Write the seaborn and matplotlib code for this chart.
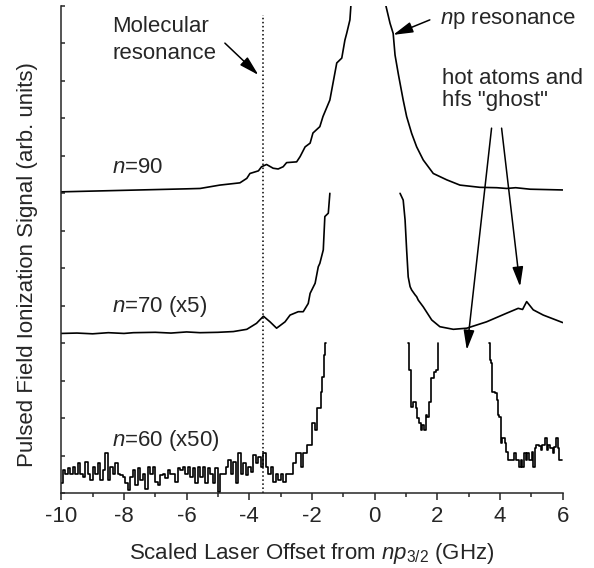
import matplotlib
matplotlib.use("Agg")
import matplotlib.pyplot as plt
import pandas as pd
import seaborn as sns

# Traces. y is in tick units (ticks every 1, axis 0..13).
# n=90: left and right wings of the np line (peak runs off the top)
n90_left_x = [-10.0, -9.0, -8.0, -7.0, -6.0, -5.57, -4.94, -4.30, -4.08, -3.98,
              -3.71, -3.61, -3.45, -3.24, -3.08, -2.92, -2.81, -2.49, -2.38, -2.22,
              -2.06, -1.97, -1.75, -1.65, -1.43, -1.33, -1.21, -1.05, -0.95, -0.89,
              -0.79, -0.76]
n90_left_y = [8.04, 8.06, 8.08, 8.10, 8.12, 8.13, 8.22, 8.28, 8.40, 8.53,
              8.60, 8.71, 8.77, 8.67, 8.65, 8.71, 8.82, 8.84, 8.98, 9.24,
              9.34, 9.61, 9.78, 10.05, 10.49, 10.94, 11.48, 11.61, 12.09, 12.28,
              12.63, 13.0]
n90_right_x = [0.36, 0.49, 0.59, 0.65, 0.76, 0.91, 1.02, 1.18, 1.34, 1.55,
               1.87, 2.30, 2.72, 3.36, 3.90, 4.21, 4.50, 4.96, 6.0]
n90_right_y = [13.0, 12.54, 12.27, 11.69, 11.16, 10.49, 10.05, 9.60, 9.24, 8.89,
               8.53, 8.36, 8.22, 8.16, 8.15, 8.13, 8.15, 8.11, 8.09]

# n=70 (x5)
n70_left_x = [-10.0, -9.5, -9.0, -8.5, -8.0, -7.7, -7.0, -6.5, -6.0, -5.57,
              -5.0, -4.51, -4.08, -3.77, -3.55, -3.34, -3.13, -2.86, -2.70, -2.44,
              -2.28, -2.12, -2.06, -1.90, -1.80, -1.75, -1.64, -1.59, -1.48, -1.43]
n70_left_y = [4.26, 4.27, 4.25, 4.28, 4.26, 4.28, 4.29, 4.27, 4.30, 4.28,
              4.29, 4.31, 4.37, 4.53, 4.72, 4.57, 4.40, 4.57, 4.75, 4.84,
              4.84, 5.06, 5.33, 5.60, 6.04, 6.13, 6.49, 7.38, 7.47, 8.0]
n70_right_x = [0.81, 0.91, 0.97, 1.02, 1.07, 1.13, 1.18, 1.29, 1.34, 1.39,
               1.55, 1.82, 2.08, 2.51, 2.94, 3.57, 4.21, 4.58, 4.72, 4.85,
               5.06, 5.38, 6.0]
n70_right_y = [8.0, 7.82, 7.29, 6.49, 5.77, 5.51, 5.42, 5.29, 5.24, 5.15,
               4.97, 4.62, 4.44, 4.37, 4.40, 4.57, 4.80, 4.93, 4.90, 5.11,
               4.89, 4.75, 4.55]

# n=60 (x50): noisy, three visible pieces
n60_a_x = [-10.00, -9.92, -9.84, -9.76, -9.68, -9.60, -9.52, -9.44, -9.36, -9.28,
           -9.20, -9.12, -9.04, -8.96, -8.88, -8.80, -8.72, -8.64, -8.56, -8.48,
           -8.40, -8.32, -8.24, -8.16, -8.08, -8.00, -7.92, -7.84, -7.76, -7.68,
           -7.60, -7.52, -7.44, -7.36, -7.28, -7.20, -7.12, -7.04, -6.96, -6.88,
           -6.80, -6.72, -6.64, -6.56, -6.48, -6.40, -6.32, -6.24, -6.16, -6.08,
           -6.00, -5.92, -5.84, -5.76, -5.68, -5.60, -5.52, -5.44, -5.36, -5.28,
           -5.20, -5.12, -5.04, -4.96, -4.88, -4.80, -4.72, -4.64, -4.56, -4.48,
           -4.40, -4.32, -4.24, -4.16, -4.08, -4.00, -3.92, -3.84, -3.76, -3.68,
           -3.60, -3.52, -3.44, -3.36, -3.28, -3.20, -3.12, -3.04, -2.96, -2.88,
           -2.80, -2.72, -2.64, -2.56, -2.49, -2.38, -2.33, -2.22, -2.12, -2.01,
           -1.96, -1.85, -1.83, -1.75, -1.69, -1.64, -1.59, -1.56]
n60_a_y = [0.26, 0.61, 0.52, 0.66, 0.52, 0.70, 0.52, 0.79, 0.52, 0.44,
           0.84, 0.52, 0.35, 0.70, 0.52, 0.79, 0.35, 0.61, 1.08, 0.35,
           0.70, 0.52, 0.79, 0.52, 0.48, 0.44, 0.26, 0.08, 0.44, 0.61,
           0.21, 0.66, 0.35, 0.52, 0.12, 0.70, 0.52, 0.70, 0.30, 0.21,
           0.48, 0.52, 0.39, 0.61, 0.52, 0.52, 0.30, 0.66, 0.61, 0.70,
           0.52, 0.70, 0.44, 0.66, 0.26, 0.70, 0.44, 0.70, 0.26, 0.66,
           0.52, 0.26, 0.66, 0.04, 0.52, 0.52, 0.70, 0.88, 0.52, 0.84,
           0.26, 1.06, 0.52, 0.79, 0.48, 0.70, 0.57, 1.01, 0.79, 0.97,
           0.70, 1.08, 0.70, 0.52, 0.70, 0.30, 0.52, 0.35, 0.52, 0.30,
           0.52, 0.52, 0.52, 0.79, 1.06, 1.06, 0.70, 1.06, 1.28, 1.28,
           1.86, 1.68, 2.26, 2.26, 2.70, 3.10, 3.68, 4.0]
n60_b_x = [1.07, 1.13, 1.18, 1.29, 1.34, 1.39, 1.47, 1.50, 1.55, 1.60,
           1.66, 1.71, 1.77, 1.84, 1.92, 1.98, 2.03]
n60_b_y = [4.0, 3.28, 2.30, 2.44, 2.26, 1.99, 1.86, 1.68, 1.82, 1.68,
           2.08, 2.04, 2.44, 3.06, 3.24, 3.28, 4.0]
n60_c_x = [3.66, 3.68, 3.73, 3.78, 3.87, 3.91, 3.94, 4.02, 4.05, 4.10,
           4.19, 4.21, 4.30, 4.42, 4.48, 4.55, 4.64, 4.69, 4.74, 4.80,
           4.85, 4.90, 4.98, 5.04, 5.08, 5.13, 5.19, 5.27, 5.33, 5.38,
           5.47, 5.51, 5.57, 5.65, 5.70, 5.75, 5.81, 5.86, 5.91, 5.98]
n60_c_y = [4.0, 3.55, 3.46, 2.70, 2.66, 2.48, 2.08, 2.04, 1.33, 1.46,
           1.33, 1.10, 0.88, 0.88, 1.06, 0.88, 0.70, 0.88, 0.70, 1.06,
           0.88, 1.06, 0.88, 1.10, 0.70, 1.19, 1.28, 1.25, 1.15, 1.28,
           1.46, 1.15, 1.28, 1.19, 1.06, 1.24, 1.46, 1.19, 0.88, 0.88]

molecular_x = -3.55
xticks_major = [-10, -8, -6, -4, -2, 0, 2, 4, 6]
xtick_labels = ["-10", "-8", "-6", "-4", "-2", "0", "2", "4", "6"]
xticks_minor = [-9, -7, -5, -3, -1, 1, 3, 5]
yticks = list(range(0, 14))

sns.set_style("ticks")
plt.rcParams["font.family"] = ["Liberation Sans", "DejaVu Sans"]
plt.rcParams["mathtext.fontset"] = "custom"
plt.rcParams["mathtext.rm"] = "Liberation Sans"
plt.rcParams["mathtext.it"] = "Liberation Sans:italic"

fig = plt.figure(figsize=(5.94, 5.68), dpi=100)
ax = fig.add_axes([0.1032, 0.132, 0.8441, 0.8574])


def trace(x, y, **kw):
    df = pd.DataFrame({"x": x, "y": y})
    sns.lineplot(data=df, x="x", y="y", ax=ax, color="black", lw=1.2,
                 sort=False, estimator=None, legend=False, **kw)


trace(n90_left_x, n90_left_y)
trace(n90_right_x, n90_right_y)
trace(n70_left_x, n70_left_y)
trace(n70_right_x, n70_right_y)
trace(n60_a_x, n60_a_y, drawstyle="steps-mid")
trace(n60_b_x, n60_b_y, drawstyle="steps-mid")
trace(n60_c_x, n60_c_y, drawstyle="steps-mid")

ax.plot([molecular_x, molecular_x], [0, 12.75], color="black", ls=":", lw=1.1)

ax.set_xlim(-10, 6)
ax.set_ylim(0, 13)
ax.set_xticks(xticks_major)
ax.set_xticklabels(xtick_labels)
ax.set_xticks(xticks_minor, minor=True)
ax.set_yticks(yticks)
ax.set_yticklabels([])
ax.tick_params(axis="x", which="major", direction="out", length=5, width=1.1,
               labelsize=16, pad=4)
ax.tick_params(axis="x", which="minor", direction="out", length=3, width=1.1)
ax.tick_params(axis="y", direction="in", length=3, width=1.1)
sns.despine(ax=ax)
for s in ["left", "bottom"]:
    ax.spines[s].set_linewidth(1.1)

fs = 16
ax.set_xlabel(r"Scaled Laser Offset from $np_{\mathit{3/2}}$ (GHz)", fontsize=fs)
ax.set_ylabel("Pulsed Field Ionization Signal (arb. units)", fontsize=fs)
ax.xaxis.set_label_coords(0.5, -0.098)
ax.yaxis.set_label_coords(-0.047, 0.47)

ax.text(-8.38, 12.30, "Molecular", fontsize=fs, va="baseline")
ax.text(-8.38, 11.58, "resonance", fontsize=fs, va="baseline")
ax.text(-8.38, 8.53, r"$n$=90", fontsize=fs, va="baseline")
ax.text(-8.38, 4.83, r"$n$=70 (x5)", fontsize=fs, va="baseline")
ax.text(-8.38, 1.26, r"$n$=60 (x50)", fontsize=fs, va="baseline")
ax.text(2.08, 12.52, r"$n$p resonance", fontsize=fs, va="baseline")
ax.text(2.14, 10.92, "hot atoms and", fontsize=fs, va="baseline")
ax.text(2.14, 10.33, 'hfs "ghost"', fontsize=fs, va="baseline")

arrow = dict(arrowstyle="-|>,head_length=0.8,head_width=0.22", color="black",
             lw=1.1, mutation_scale=15, shrinkA=0, shrinkB=0)
ax.annotate("", xy=(-3.71, 11.16), xytext=(-4.78, 12.01), arrowprops=arrow)
ax.annotate("", xy=(0.59, 12.23), xytext=(1.76, 12.63), arrowprops=arrow)
ax.annotate("", xy=(2.94, 3.82), xytext=(3.73, 9.74), arrowprops=arrow)
ax.annotate("", xy=(4.64, 5.51), xytext=(4.05, 9.74), arrowprops=arrow)

fig.savefig("out.png", dpi=100)
